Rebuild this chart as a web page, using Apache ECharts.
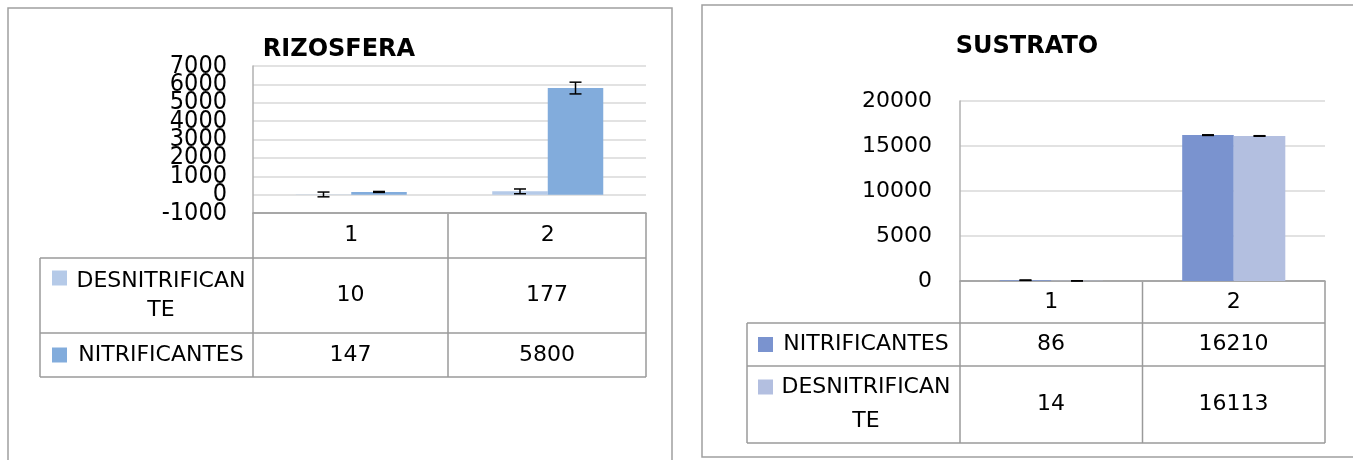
<!DOCTYPE html>
<html lang="es">
<head>
    <meta charset="UTF-8">
    <title>NMP</title>
    <style>
        html, body {margin: 0; padding: 0; background: #fff;}
        #box {width: 1353px; height: 460px;}
    </style>
</head>
<body>
<div id="box"></div>
</body>
<script src="https://cdn.jsdelivr.net/npm/echarts@6.0.0/dist/echarts.min.js"></script>
<script>
    // datos
    var categorias = ['1', '2'];

    var rizNombres = ['DESNITRIFICANTE', 'NITRIFICANTES'];
    var rizEtiquetas = ['DESNITRIFICAN\nTE', 'NITRIFICANTES'];
    var rizDesnit = [10, 177];
    var rizNitrif = [147, 5800];
    var rizDesnitErr = [130, 130];
    var rizNitrifErr = [25, 320];
    var rizTicks = {min: -1000, max: 7000, interval: 1000};

    var susNombres = ['NITRIFICANTES', 'DESNITRIFICANTE'];
    var susEtiquetas = ['NITRIFICANTES', 'DESNITRIFICAN\nTE'];
    var susNitrif = [86, 16210];
    var susDesnit = [14, 16113];
    var susNitrifErr = [15, 35];
    var susDesnitErr = [10, 30];
    var susTicks = {min: 0, max: 20000, interval: 5000};

    var rizColores = ['#B5CAE8', '#82ACDC'];
    var susColores = ['#7A93CF', '#B3BFE0'];

    var FONT = 'DejaVu Sans';
    var GAP = 0.435;
    var lineaTabla = {stroke: '#9a9a9a', lineWidth: 1.5};

    var chart = echarts.init(document.getElementById('box'));

    // barras de error
    function errorBar(lado) {
        return function (params, api) {
            var i = api.value(0), v = api.value(1), e = api.value(2);
            var c = api.coord([i, v]);
            var bw = api.size([1, 0])[0] * (1 - GAP) / 2;
            var x = c[0] + lado * bw / 2;
            var y1 = api.coord([i, v + e])[1];
            var y2 = api.coord([i, v - e])[1];
            var st = {stroke: '#000', lineWidth: 1.5};
            return {
                type: 'group',
                children: [
                    {type: 'line', shape: {x1: x, y1: y1, x2: x, y2: y2}, style: st},
                    {type: 'line', shape: {x1: x - 6, y1: y1, x2: x + 6, y2: y1}, style: st},
                    {type: 'line', shape: {x1: x - 6, y1: y2, x2: x + 6, y2: y2}, style: st}
                ]
            };
        };
    }

    function errData(vals, errs) {
        var out = [];
        for (var i = 0; i < vals.length; i++) out.push([i, vals[i], errs[i]]);
        return out;
    }

    function linea(x1, y1, x2, y2) {
        return {type: 'line', shape: {x1: x1, y1: y1, x2: x2, y2: y2}, style: lineaTabla, silent: true};
    }

    function texto(x, y, t, size, extra) {
        var s = {x: x, y: y, text: t, font: (extra && extra.bold ? 'bold ' : '') + size + 'px "' + FONT + '"',
            fill: '#000', textAlign: (extra && extra.align) || 'center', textVerticalAlign: 'middle'};
        if (extra && extra.lineHeight) s.lineHeight = extra.lineHeight;
        var o = {type: 'text', style: s, silent: true};
        if (extra && extra.rotation) o.rotation = extra.rotation;
        return o;
    }

    function cuadro(x, y, color) {
        return {type: 'rect', shape: {x: x, y: y, width: 15, height: 15}, style: {fill: color}, silent: true};
    }

    // tablas de datos bajo cada grafico
    var g = [];
    g.push({type: 'rect', shape: {x: 8, y: 8, width: 664, height: 470}, style: {fill: 'none', stroke: '#a0a0a0', lineWidth: 1.5}, silent: true});
    g.push({type: 'rect', shape: {x: 702, y: 5, width: 700, height: 452}, style: {fill: 'none', stroke: '#a0a0a0', lineWidth: 1.5}, silent: true});

    g.push(texto(339, 50, 'RIZOSFERA', 24, {bold: true}));
    g.push(texto(1027, 47, 'SUSTRATO', 24, {bold: true}));
    g.push(texto(32, 140, 'NMP', 22, {bold: true, rotation: Math.PI / 2}));
    g.push(texto(754, 189, 'NMP', 21, {bold: true, rotation: Math.PI / 2}));

    // tabla rizosfera
    g.push(linea(253, 213, 646, 213), linea(40, 258, 646, 258), linea(40, 333, 646, 333), linea(40, 377, 646, 377));
    g.push(linea(40, 258, 40, 377), linea(253, 213, 253, 377), linea(448, 213, 448, 377), linea(646, 213, 646, 377));
    var rizFilas = [[258, 333, rizDesnit], [333, 377, rizNitrif]];
    for (var r = 0; r < rizFilas.length; r++) {
        var yc = (rizFilas[r][0] + rizFilas[r][1]) / 2;
        var multi = rizEtiquetas[r].indexOf('\n') > -1;
        g.push(cuadro(52, multi ? yc - 25 : yc - 7.5, rizColores[r]));
        g.push(texto(161, yc, rizEtiquetas[r], 22, {lineHeight: 29}));
        for (var k = 0; k < categorias.length; k++) {
            g.push(texto(350.5 + k * 196.5, yc, String(rizFilas[r][2][k]), 22));
        }
    }

    // tabla sustrato
    g.push(linea(960, 281, 1325, 281), linea(747, 323, 1325, 323), linea(747, 366, 1325, 366), linea(747, 443, 1325, 443));
    g.push(linea(747, 323, 747, 443), linea(960, 281, 960, 443), linea(1142.5, 281, 1142.5, 443), linea(1325, 281, 1325, 443));
    var susFilas = [[323, 366, susNitrif], [366, 443, susDesnit]];
    for (var r2 = 0; r2 < susFilas.length; r2++) {
        var yc2 = (susFilas[r2][0] + susFilas[r2][1]) / 2;
        var multi2 = susEtiquetas[r2].indexOf('\n') > -1;
        g.push(cuadro(758, multi2 ? yc2 - 25 : yc2 - 7.5, susColores[r2]));
        g.push(texto(866, yc2, susEtiquetas[r2], 22, {lineHeight: 34}));
        for (var k2 = 0; k2 < categorias.length; k2++) {
            g.push(texto(1051 + k2 * 182.5, yc2, String(susFilas[r2][2][k2]), 22));
        }
    }

    var ejeX = function (idx) {
        return {
            type: 'category', gridIndex: idx, data: categorias,
            axisLine: {onZero: false, lineStyle: {color: '#9a9a9a', width: 1.5}},
            axisTick: {show: false},
            axisLabel: {color: '#000', fontFamily: FONT, fontSize: 22, margin: idx === 0 ? 22 : 21, verticalAlign: 'middle'}
        };
    };

    var sinComa = function (v) { return String(v); };

    // las etiquetas de rizosfera se solapan: pares en un eje, impares en otro
    var paridad = function (p) {
        return function (v) {
            var n = Math.round((v - rizTicks.min) / rizTicks.interval);
            return n % 2 === p ? String(v) : '';
        };
    };
    var etiqRiz = function (p) {
        return {
            margin: 26, showMinLabel: p === 0, showMaxLabel: p === 0, formatter: paridad(p),
            color: '#000', fontFamily: '"DejaVu Sans Condensed", "DejaVu Sans"', fontSize: 25
        };
    };

    var option = {
        animation: false,
        grid: [
            {left: 253, top: 66, width: 393, height: 147},
            {left: 960, top: 101, width: 365, height: 180}
        ],
        xAxis: [ejeX(0), ejeX(1)],
        yAxis: [
            {
                type: 'value', gridIndex: 0, min: rizTicks.min, max: rizTicks.max, interval: rizTicks.interval,
                axisLine: {show: true, lineStyle: {color: '#b0b0b0', width: 1.5}},
                axisTick: {show: false},
                splitLine: {lineStyle: {color: '#d9d9d9', width: 1.5}},
                axisLabel: etiqRiz(0)
            },
            {
                type: 'value', gridIndex: 1, min: susTicks.min, max: susTicks.max, interval: susTicks.interval,
                axisLine: {show: true, lineStyle: {color: '#b0b0b0', width: 1.5}},
                axisTick: {show: false},
                splitLine: {lineStyle: {color: '#d9d9d9', width: 1.5}},
                axisLabel: {color: '#000', fontFamily: FONT, fontSize: 22, margin: 28, formatter: sinComa, showMinLabel: true, showMaxLabel: true}
            },
            {
                type: 'value', gridIndex: 0, position: 'left', min: rizTicks.min, max: rizTicks.max, interval: rizTicks.interval,
                axisLine: {show: false}, axisTick: {show: false}, splitLine: {show: false},
                axisLabel: etiqRiz(1)
            }
        ],
        series: [
            {name: rizNombres[0], type: 'bar', xAxisIndex: 0, yAxisIndex: 0, data: rizDesnit, barGap: 0, barCategoryGap: GAP * 100 + '%', itemStyle: {color: rizColores[0]}},
            {name: rizNombres[1], type: 'bar', xAxisIndex: 0, yAxisIndex: 0, data: rizNitrif, barGap: 0, barCategoryGap: GAP * 100 + '%', itemStyle: {color: rizColores[1]}},
            {type: 'custom', xAxisIndex: 0, yAxisIndex: 0, renderItem: errorBar(-1), data: errData(rizDesnit, rizDesnitErr), z: 5, clip: false},
            {type: 'custom', xAxisIndex: 0, yAxisIndex: 0, renderItem: errorBar(1), data: errData(rizNitrif, rizNitrifErr), z: 5, clip: false},
            {name: susNombres[0], type: 'bar', xAxisIndex: 1, yAxisIndex: 1, data: susNitrif, barGap: 0, barCategoryGap: GAP * 100 + '%', itemStyle: {color: susColores[0]}},
            {name: susNombres[1], type: 'bar', xAxisIndex: 1, yAxisIndex: 1, data: susDesnit, barGap: 0, barCategoryGap: GAP * 100 + '%', itemStyle: {color: susColores[1]}},
            {type: 'custom', xAxisIndex: 1, yAxisIndex: 1, renderItem: errorBar(-1), data: errData(susNitrif, susNitrifErr), z: 5, clip: false},
            {type: 'custom', xAxisIndex: 1, yAxisIndex: 1, renderItem: errorBar(1), data: errData(susDesnit, susDesnitErr), z: 5, clip: false}
        ],
        graphic: g
    };
    chart.setOption(option);
</script>
</html>
